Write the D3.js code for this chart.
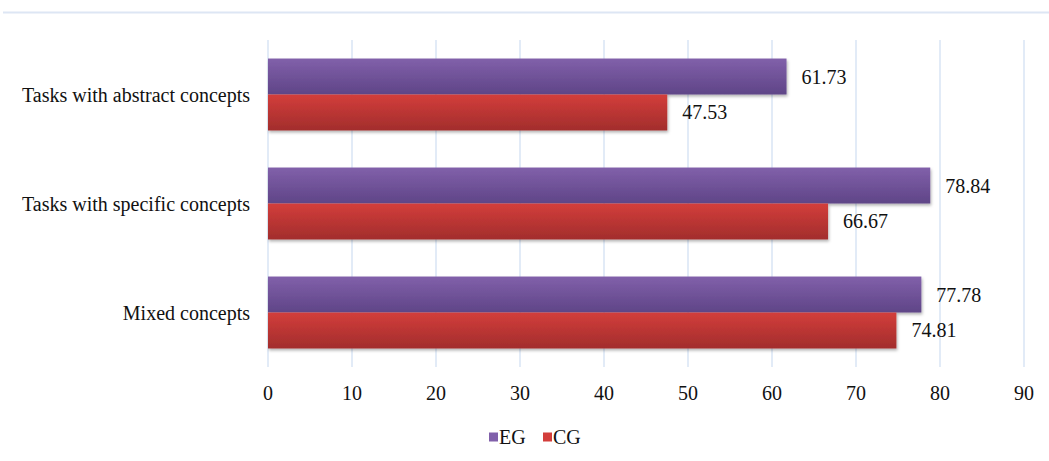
<!DOCTYPE html>
<html><head><meta charset="utf-8">
<script src="https://cdn.jsdelivr.net/npm/d3@7"></script>
<style>body{margin:0;background:#fff}svg{display:block}svg text{font-family:"Liberation Serif","Times New Roman",serif;}</style>
</head><body>
<svg id="c" width="1049" height="461"></svg>
<script>
const categories = ["Tasks with abstract concepts", "Tasks with specific concepts", "Mixed concepts"];
const seriesNames = ["EG", "CG"];
const egValues = [61.73, 78.84, 77.78];
const cgValues = [47.53, 66.67, 74.81];
const xTicks = [0, 10, 20, 30, 40, 50, 60, 70, 80, 90];

const svg = d3.select("#c");
const fs = 20;
const x = d3.scaleLinear().domain([0, 90]).range([268, 1024]);
const y0 = d3.scaleBand().domain(categories).range([40, 367]).paddingInner(0.34).paddingOuter(0.17);
const y1 = d3.scaleBand().domain(seriesNames).range([0, y0.bandwidth()]);
const colors = {EG: ["#8160aa", "#5f4587"], CG: ["#d33e3b", "#a22d2c"]};

const defs = svg.append("defs");
seriesNames.forEach(s => {
  const g = defs.append("linearGradient").attr("id", "g" + s).attr("x1", 0).attr("y1", 0).attr("x2", 0).attr("y2", 1);
  g.append("stop").attr("offset", "0%").attr("stop-color", colors[s][0]);
  g.append("stop").attr("offset", "100%").attr("stop-color", colors[s][1]);
});
const f = defs.append("filter").attr("id", "sh").attr("x", "-5%").attr("y", "-20%").attr("width", "110%").attr("height", "150%");
f.append("feDropShadow").attr("dx", 1).attr("dy", 2).attr("stdDeviation", 1.5).attr("flood-color", "#000").attr("flood-opacity", 0.3);

// top border line
svg.append("line").attr("x1", 3).attr("x2", 1049).attr("y1", 12.5).attr("y2", 12.5).attr("stroke", "#dde6f4").attr("stroke-width", 2);

// grid
svg.append("g").selectAll("line").data(xTicks).join("line")
  .attr("x1", d => x(d)).attr("x2", d => x(d)).attr("y1", 40).attr("y2", 367)
  .attr("stroke", "#d3e1f3").attr("stroke-width", 1.3);

const data = categories.map((c, i) => ({c, vals: [{s: "EG", v: egValues[i]}, {s: "CG", v: cgValues[i]}]}));
const groups = svg.append("g").selectAll("g").data(data).join("g")
  .attr("transform", d => `translate(0,${y0(d.c)})`);
groups.selectAll("rect").data(d => d.vals).join("rect")
  .attr("x", x(0)).attr("y", d => y1(d.s)).attr("width", d => x(d.v) - x(0)).attr("height", y1.bandwidth())
  .attr("fill", d => `url(#g${d.s})`).attr("filter", "url(#sh)");
groups.selectAll("text").data(d => d.vals).join("text")
  .attr("x", d => x(d.v) + 15).attr("y", d => y1(d.s) + y1.bandwidth() / 2)
  .attr("dy", "0.35em").attr("font-size", fs).attr("fill", "#111")
  .text(d => d.v.toFixed(2));

// category labels
svg.append("g").selectAll("text").data(categories).join("text")
  .attr("x", 250).attr("y", d => y0(d) + y0.bandwidth() / 2).attr("dy", "0.35em")
  .attr("text-anchor", "end").attr("font-size", fs).attr("fill", "#111").text(d => d);

// x tick labels
svg.append("g").selectAll("text").data(xTicks).join("text")
  .attr("x", d => x(d)).attr("y", 393).attr("dy", "0.35em").attr("text-anchor", "middle")
  .attr("font-size", fs).attr("fill", "#111").text(d => d);

// legend
const lg = svg.append("g").selectAll("g").data(seriesNames).join("g")
  .attr("transform", (d, i) => `translate(${489 + i * 54},437)`);
lg.append("rect").attr("x", 0).attr("y", -4.5).attr("width", 9).attr("height", 9).attr("fill", d => colors[d][0]);
lg.append("text").attr("x", 10).attr("y", 0).attr("dy", "0.35em").attr("font-size", fs).attr("fill", "#111").text(d => d);
</script>
</body></html>
